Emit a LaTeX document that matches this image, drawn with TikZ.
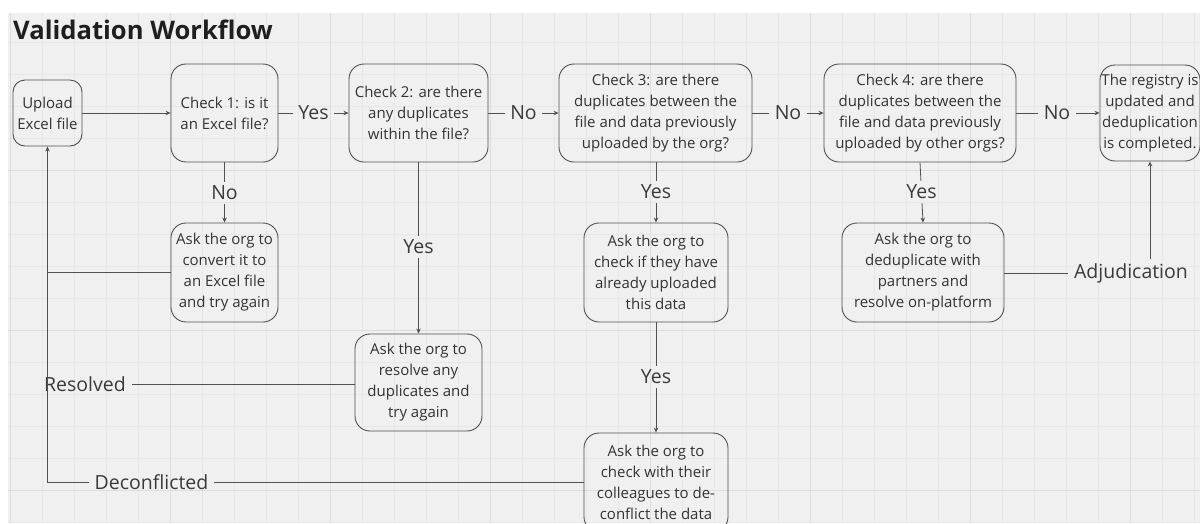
\documentclass[tikz,border=0pt]{standalone}
\usepackage{fontspec}
\setmainfont{Open Sans}
\usetikzlibrary{arrows.meta}
\definecolor{bg}{HTML}{F0F0F0}
\definecolor{gridminor}{HTML}{E7E7E7}
\definecolor{gridmajor}{HTML}{DDDDDD}
\definecolor{ink}{HTML}{333333}
\definecolor{labink}{HTML}{3A3A3A}
\definecolor{edge}{HTML}{505050}
\begin{document}
\begin{tikzpicture}[x=1pt,y=-1pt,
  box/.style={draw=edge, line width=0.9pt, rounded corners=15pt,
    font=\fontsize{15}{21}\selectfont, text=ink, align=center, inner sep=0pt},
  lab/.style={font=\fontsize{19.5}{22}\selectfont, text=labink, inner xsep=5.5pt, inner ysep=4pt},
  conn/.style={draw=edge, line width=0.8pt},
  arr/.style={conn, -{Stealth[length=5pt,width=4.5pt]}}]
\useasboundingbox (0,0) rectangle (1200,523);
\clip (0,0) rectangle (1200,523);
% canvas
\fill[bg] (8,13) rectangle (1200,523);
\begin{scope}
  \clip (8,13) rectangle (1200,523);
  \foreach \i in {0,...,37} \draw[gridminor, line width=0.7pt] ({10+32*\i},13) -- ({10+32*\i},523);
  \foreach \j in {1,...,16} \draw[gridminor, line width=0.7pt] (8,{10+32*\j}) -- (1200,{10+32*\j});
  \foreach \i in {0,...,7} \draw[gridmajor, line width=0.9pt] ({10+160*\i},13) -- ({10+160*\i},523);
  \foreach \j in {1,2,3} \draw[gridmajor, line width=0.9pt] (8,{10+160*\j}) -- (1200,{10+160*\j});
\end{scope}
% title
\node[anchor=base west, font=\fontsize{25.6}{30}\selectfont\bfseries, text=black!88, inner sep=0pt] (title) at (13,39) {Validation Workflow};
% top row
\node[box, minimum width=69pt, minimum height=66pt, rounded corners=12pt] (up) at (47.5,113) {Upload\\Excel file};
\node[box, minimum width=107pt, minimum height=98pt] (c1) at (224.5,113) {Check 1: is it\\an Excel file?};
\node[box, minimum width=139pt, minimum height=98pt] (c2) at (418.5,113) {Check 2: are there\\any duplicates\\within the file?};
\node[box, minimum width=193pt, minimum height=98pt] (c3) at (655.5,113) {Check 3: are there\\duplicates between the\\file and data previously\\uploaded by the org?};
\node[box, minimum width=192pt, minimum height=98pt] (c4) at (920,113) {Check 4: are there\\duplicates between the\\file and data previously\\uploaded by other orgs?};
\node[box, minimum width=100pt, minimum height=96pt] (fin) at (1150,113) {\makebox[90pt]{The registry is}\\\makebox[90pt]{updated and}\\\makebox[90pt]{deduplication}\\\makebox[90pt]{is completed.}};
% lower boxes
\node[box, minimum width=107pt, minimum height=99pt] (conv) at (224.5,272.5) {Ask the org to\\convert it to\\an Excel file\\and try again};
\node[box, minimum width=127pt, minimum height=97pt] (res) at (418.5,382.5) {Ask the org to\\resolve any\\duplicates and\\try again};
\node[box, minimum width=144pt, minimum height=99pt] (ask3) at (656,272.5) {Ask the org to\\check if they have\\already uploaded\\this data};
\node[box, minimum width=144pt, minimum height=99pt] (dec) at (656,482.5) {Ask the org to\\check with their\\colleagues to de-\\conflict the data};
\node[box, minimum width=162pt, minimum height=99pt] (ask4) at (923,272.5) {Ask the org to\\deduplicate with\\partners and\\resolve on-platform};
% upload -> check 1
\draw[arr] (up) -- (c1);
% horizontal labelled connectors
\node[lab] (l1) at (313.5,113) {Yes};
\draw[conn] (c1) -- (l1); \draw[arr] (l1) -- (c2);
\node[lab] (l2) at (523.5,113) {No};
\draw[conn] (c2) -- (l2); \draw[arr] (l2) -- (c3);
\node[lab] (l3) at (788,113) {No};
\draw[conn] (c3) -- (l3); \draw[arr] (l3) -- (c4);
\node[lab] (l4) at (1057,113) {No};
\draw[conn] (c4) -- (l4); \draw[arr] (l4) -- (fin);
% vertical labelled connectors
\node[lab] (l5) at (224.5,193) {No};
\draw[conn] (c1) -- (l5); \draw[arr] (l5) -- (conv);
\node[lab] (l6) at (418.5,247) {Yes};
\draw[conn] (c2) -- (l6); \draw[arr] (l6) -- (res);
\node[lab] (l7) at (656,192) {Yes};
\draw[conn] (c3.south -| l7) -- (l7); \draw[arr] (l7) -- (ask3);
\node[lab] (l8) at (921.5,192) {Yes};
\draw[conn] (c4.south) -- (l8); \draw[arr] (l8) -- (ask4.north);
\node[lab] (l9) at (656,377) {Yes};
\draw[conn] (ask3) -- (l9); \draw[arr] (l9) -- (dec);
% return loops
\draw[conn] (conv.west) -- (conv.west -| up.south);
\node[lab] (lres) at (85,384) {Resolved};
\draw[conn] (res.west |- lres) -- (lres.east);
\node[lab] (ldec) at (151.5,482) {Deconflicted};
\draw[conn] (dec.west |- ldec) -- (ldec.east);
\draw[arr] (ldec.west) -- (ldec.west -| up.south) -- (up.south);
% adjudication
\node[lab] (ladj) at (1131,273) {Adjudication};
\draw[conn] (ask4.east |- ladj) -- (ladj.west);
\draw[arr] (ladj.north -| fin.south) -- (fin.south);
\end{tikzpicture}
\end{document}
